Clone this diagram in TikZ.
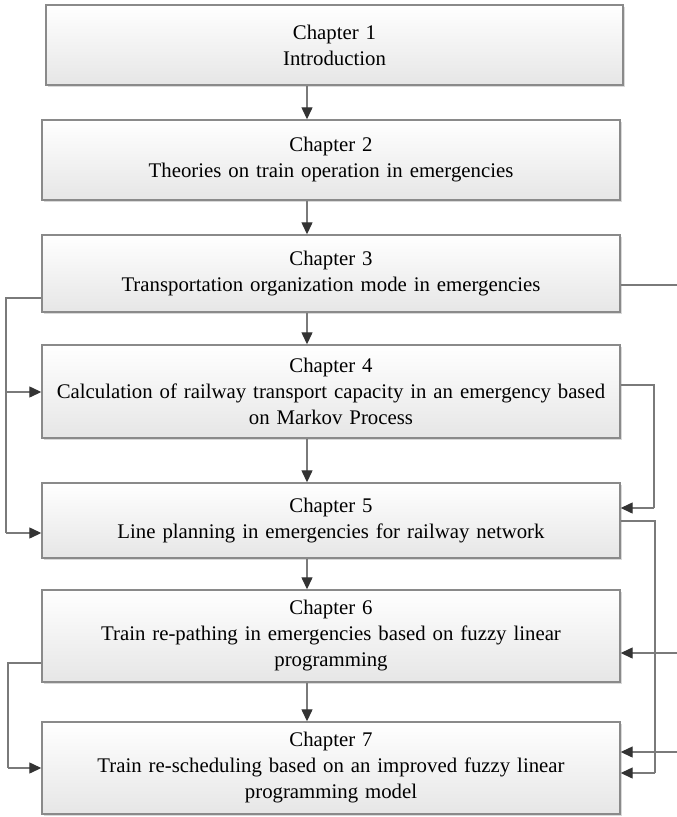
\documentclass[tikz,border=0pt]{standalone}
\usepackage{fontspec}
\setmainfont[WordSpace=0.8]{Liberation Serif}
\usepackage{tikz}
\usetikzlibrary{arrows.meta,positioning,shadows}
\definecolor{edge}{HTML}{8A8A8A}
\definecolor{wire}{HTML}{7A7A7A}
\definecolor{tip}{HTML}{333333}
\definecolor{shade}{HTML}{E6E6E6}
\tikzset{
  box/.style={draw=edge,line width=1.4pt,top color=white,bottom color=shade,
    minimum width=578pt,text width=566pt,align=center,inner sep=0pt,
    font=\fontsize{20.8}{26}\selectfont,
    drop shadow={shadow xshift=2pt,shadow yshift=-2pt,fill=black!25,opacity=.6}},
  ln/.style={line width=1.3pt,color=wire},
  arr/.style={ln,-{Triangle[length=12pt,width=11pt,color=tip]}},
}
\begin{document}
\begin{tikzpicture}[x=1pt,y=-1pt]
\useasboundingbox (0,0) rectangle (677,817);
% chapters
\node[box,minimum height=80pt,minimum width=577pt] (c1) at (334.5,45) {Chapter 1\\Introduction};
\node[box,minimum height=80pt] (c2) at (331,160) {Chapter 2\\Theories on train operation in emergencies};
\node[box,minimum height=77pt] (c3) at (331,273.5) {Chapter 3\\Transportation organization mode in emergencies};
\node[box,minimum height=93pt] (c4) at (331,391.5) {Chapter 4\\Calculation of railway transport capacity in an emergency based\\on Markov Process};
\node[box,minimum height=75pt] (c5) at (331,520.5) {Chapter 5\\Line planning in emergencies for railway network};
\node[box,minimum height=92pt] (c6) at (331,636) {Chapter 6\\Train re-pathing in emergencies based on fuzzy linear\\programming};
\node[box,minimum height=92pt] (c7) at (331,768) {Chapter 7\\Train re-scheduling based on an improved fuzzy linear\\programming model};
% main chain
\coordinate (mid) at (307,0);
\foreach \a/\b in {c1/c2,c2/c3,c3/c4,c4/c5,c5/c6,c6/c7}
  \draw[arr] (\a.south -| mid) -- (\b.north -| mid);
% left side
\coordinate (l3) at (6,298);
\coordinate (l4) at (6,392);
\coordinate (l5) at (6,533);
\coordinate (l6) at (8,663);
\coordinate (l7) at (8,768);
\draw[ln] (c3.west |- l3) -- (l3) -- (l5);
\draw[arr] (l4) -- (c4.west |- l4);
\draw[arr] (l5) -- (c5.west |- l5);
\draw[ln] (c6.west |- l6) -- (l6) -- (l7);
\draw[arr] (l7) -- (c7.west |- l7);
% right side
\coordinate (r3) at (677,285);
\coordinate (r4) at (654,385);
\coordinate (r5) at (654,508);
\coordinate (s5) at (655,521);
\coordinate (s7) at (655,773);
\coordinate (r6) at (677,653);
\coordinate (r7) at (677,752);
\draw[ln] (c3.east |- r3) -- (r3);
\draw[ln] (c4.east |- r4) -- (r4) -- (r5);
\draw[arr] (r5) -- (c5.east |- r5);
\draw[ln] (c5.east |- s5) -- (s5) -- (s7);
\draw[arr] (s7) -- (c7.east |- s7);
\draw[arr] (r6) -- (c6.east |- r6);
\draw[arr] (r7) -- (c7.east |- r7);
\end{tikzpicture}
\end{document}
